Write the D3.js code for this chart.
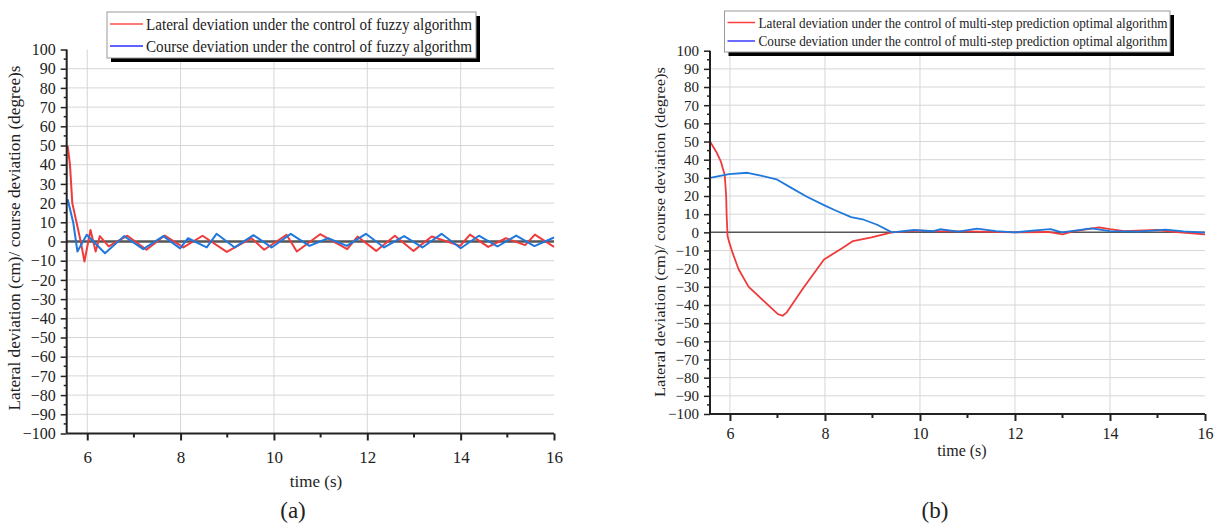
<!DOCTYPE html>
<html>
<head>
<meta charset="utf-8">
<script src="https://cdn.jsdelivr.net/npm/d3@7"></script>
<style>
  body { margin: 0; background: #fff; }
  svg { display: block; }
  text { font-family: "Liberation Serif", "Times New Roman", serif; fill: #222; }
</style>
</head>
<body>
<svg id="fig" width="1220" height="527"></svg>
<script>
// ---- data -------------------------------------------------------------
const xTickValues = [6, 8, 10, 12, 14, 16];
const xMinorValues = [7, 9, 11, 13, 15];
const yTickValues = [-100, -90, -80, -70, -60, -50, -40, -30, -20, -10, 0, 10, 20, 30, 40, 50, 60, 70, 80, 90, 100];
const yGridValues = [-90, -80, -70, -60, -50, -40, -30, -20, -10, 10, 20, 30, 40, 50, 60, 70, 80, 90];

// (a) fuzzy algorithm
const fuzzyLateralTime = [5.58, 5.63, 5.68, 5.77, 5.86, 5.94, 6.07, 6.18, 6.27, 6.46, 6.86, 7.27, 7.66, 8.06, 8.47, 8.99, 9.52, 9.79, 10.27, 10.49, 10.99, 11.57, 11.79, 12.19, 12.59, 12.99, 13.38, 13.99, 14.2, 14.59, 14.97, 15.38, 15.59, 16.0];
const fuzzyLateral     = [50, 40, 20, 10, 0, -10.4, 6, -5.2, 2.8, -2.5, 3, -4.3, 3.1, -3.1, 3, -5.4, 1.7, -4.3, 3.5, -5.2, 3.8, -4, 2.6, -4.9, 3, -4.9, 2.6, -2.3, 3.6, -2.8, 1.7, -1.9, 3.6, -2.8];
const fuzzyCourseTime  = [5.58, 5.7, 5.79, 5.99, 6.38, 6.79, 7.2, 7.63, 7.99, 8.16, 8.56, 8.77, 9.16, 9.56, 9.95, 10.36, 10.76, 11.16, 11.56, 11.97, 12.36, 12.79, 13.18, 13.59, 14.0, 14.39, 14.79, 15.19, 15.58, 16.0];
const fuzzyCourse      = [22, 9.9, -5.2, 3.5, -6.1, 2.8, -4, 2.8, -3.6, 1.7, -3.1, 4, -3.1, 3.3, -3.1, 4, -2.3, 1.7, -2.3, 4, -3.1, 2.8, -3.1, 4, -3.5, 3, -2.6, 3.1, -2.4, 2.1];

// (b) multi-step prediction optimal algorithm
const optLateralTime = [5.58, 5.71, 5.81, 5.89, 5.92, 5.93, 5.95, 5.98, 6.06, 6.18, 6.39, 6.76, 7.01, 7.11, 7.19, 7.54, 7.98, 8.36, 8.59, 8.98, 9.41, 10.0, 10.4, 11.0, 12.0, 12.7, 13.0, 13.2, 13.77, 14.0, 14.3, 15.0, 15.4, 16.0];
const optLateral     = [50, 44.4, 38.9, 31.6, 20, 9.5, -2, -5.1, -11.6, -20.2, -29.9, -39, -45, -45.9, -44.2, -30.8, -14.9, -8.8, -4.8, -2.8, 0, 0.9, 0.6, 0.5, 0, 0.2, -1.1, 0.4, 2.8, 1.8, 0.7, 1.3, 0.2, -1.1];
const optCourseTime  = [5.58, 5.98, 6.37, 6.65, 6.98, 7.31, 7.62, 7.98, 8.2, 8.55, 8.79, 9.1, 9.41, 9.88, 10.26, 10.42, 10.81, 11.2, 11.6, 12.0, 12.37, 12.75, 12.99, 13.61, 14.0, 14.6, 15.17, 15.55, 16.0];
const optCourse      = [30, 32.1, 32.8, 31.2, 29.2, 24.2, 19.6, 15, 12.3, 8.4, 7.2, 4.2, 0, 1.3, 0.6, 1.7, 0.4, 2, 0.7, 0, 0.9, 1.8, 0, 2.2, 0.7, 0.4, 1.5, 0.5, -0.2];

// ---- drawing ----------------------------------------------------------
const svg = d3.select("#fig");
const RED = "#ef3b3b", BLUE = "#1f78dc";
const SERIF = '"Liberation Serif", "Times New Roman", serif';

function drawPanel(p) {
  const g = svg.append("g");
  const x = d3.scaleLinear().domain([p.tMin, 16]).range([p.left, p.right]);
  const y = d3.scaleLinear().domain([-100, 100]).range([p.bottom, p.top]);

  // grid
  g.selectAll(".hg").data(yGridValues).join("line")
    .attr("x1", p.left).attr("x2", p.right)
    .attr("y1", d => y(d)).attr("y2", d => y(d))
    .attr("stroke", "#d6d6d6").attr("stroke-width", 1);
  g.selectAll(".vg").data(xTickValues.filter(d => d < 16)).join("line")
    .attr("x1", d => x(d)).attr("x2", d => x(d))
    .attr("y1", p.top).attr("y2", p.bottom)
    .attr("stroke", "#d6d6d6").attr("stroke-width", 1);

  // zero reference line
  g.append("line")
    .attr("x1", p.left).attr("x2", p.right)
    .attr("y1", y(0)).attr("y2", y(0))
    .attr("stroke", "#555").attr("stroke-width", p.zeroWidth);

  // series
  const line = d3.line().x(d => x(d[0])).y(d => y(d[1]));
  p.series.forEach(s => {
    g.append("path")
      .datum(d3.zip(s.t, s.v))
      .attr("d", line)
      .attr("fill", "none")
      .attr("stroke", s.color)
      .attr("stroke-width", p.lineWidth)
      .attr("stroke-linejoin", "round");
  });

  // x axis
  const xAxis = d3.axisBottom(x).tickValues(xTickValues).tickSize(7).tickPadding(p.xTickPad)
    .tickFormat(d3.format("d"));
  const gx = g.append("g").attr("transform", `translate(0,${p.bottom})`).call(xAxis)
    .style("font-family", SERIF);
  gx.select(".domain").attr("d", `M${p.left},0H${p.right}`).attr("stroke", "#222").attr("stroke-width", 2);
  gx.selectAll(".tick line").attr("stroke", "#222").attr("stroke-width", 2);
  gx.selectAll(".tick text").style("font-size", p.xTickFont + "px").style("font-family", SERIF)
    .attr("fill", "#333");
  g.append("g").selectAll("line").data(xMinorValues).join("line")
    .attr("x1", d => x(d)).attr("x2", d => x(d))
    .attr("y1", p.bottom).attr("y2", p.bottom + 4)
    .attr("stroke", "#222").attr("stroke-width", 2);

  // y axis
  const yAxis = d3.axisLeft(y).tickValues(yTickValues).tickSize(6).tickPadding(5)
    .tickFormat(d => d < 0 ? "\u2212" + Math.abs(d) : d);
  const gy = g.append("g").attr("transform", `translate(${p.left},0)`).call(yAxis)
    .style("font-family", SERIF);
  gy.select(".domain").attr("d", `M0,${p.top}V${p.bottom}`).attr("stroke", "#222").attr("stroke-width", 2);
  gy.selectAll(".tick line").attr("stroke", "#222").attr("stroke-width", 1.5);
  gy.selectAll(".tick text").style("font-size", p.yTickFont + "px").style("font-family", SERIF)
    .attr("fill", "#333");
  g.append("g").selectAll("line").data(d3.range(-95, 100, 10)).join("line")
    .attr("x1", p.left - 3).attr("x2", p.left)
    .attr("y1", d => y(d)).attr("y2", d => y(d))
    .attr("stroke", "#222").attr("stroke-width", 1.5);

  // axis titles
  g.append("text")
    .attr("transform", `translate(${p.yTitleX},${p.yTitleY}) rotate(-90)`)
    .attr("text-anchor", "middle").attr("font-size", p.yTitleFont)
    .attr("textLength", p.yTitleLen).attr("lengthAdjust", "spacingAndGlyphs")
    .attr("fill", "#111")
    .text("Lateral deviation (cm)/ course deviation (degree)s");
  g.append("text")
    .attr("x", p.xTitleX).attr("y", p.xTitleY)
    .attr("text-anchor", "middle").attr("font-size", p.xTitleFont).attr("fill", "#111")
    .text("time (s)");
  g.append("text")
    .attr("x", p.capX).attr("y", 518)
    .attr("text-anchor", "middle").attr("font-size", 23).attr("fill", "#111")
    .text(p.caption);

  // legend
  const L = p.legend;
  g.append("rect").attr("x", L.x + 4).attr("y", L.y + 4).attr("width", L.w).attr("height", L.h).attr("fill", "#000");
  g.append("rect").attr("x", L.x).attr("y", L.y).attr("width", L.w).attr("height", L.h)
    .attr("fill", "#fff").attr("stroke", "#999").attr("stroke-width", 1);
  L.items.forEach((it, i) => {
    const yy = L.rowY[i];
    g.append("line").attr("x1", L.x + 3).attr("x2", L.lineEnd)
      .attr("y1", yy).attr("y2", yy).attr("stroke", it.color).attr("stroke-width", 1.5);
    g.append("text").attr("x", L.textX).attr("y", yy + L.baseOff)
      .attr("font-size", L.font).attr("fill", "#111")
      .attr("textLength", L.textLen).attr("lengthAdjust", "spacingAndGlyphs")
      .text(it.label);
  });
}

drawPanel({
  tMin: 5.56, left: 66.7, right: 554, top: 49.5, bottom: 433.5,
  zeroWidth: 2.5, lineWidth: 2, xTickFont: 17, yTickFont: 16, xTickPad: 10,
  yTitleX: 20, yTitleY: 238, yTitleFont: 17, yTitleLen: 345,
  xTitleX: 316, xTitleY: 487, xTitleFont: 17, capX: 293, caption: "(a)",
  series: [
    { t: fuzzyLateralTime, v: fuzzyLateral, color: RED },
    { t: fuzzyCourseTime, v: fuzzyCourse, color: BLUE }
  ],
  legend: {
    x: 107, y: 12, w: 369, h: 46, lineEnd: 143, textX: 146, textLen: 326,
    font: 16, rowY: [24, 46], baseOff: 5.5,
    items: [
      { label: "Lateral deviation under the control of fuzzy algorithm", color: "#ff4d4d" },
      { label: "Course deviation under the control of fuzzy algorithm", color: "#2b2bff" }
    ]
  }
});

drawPanel({
  tMin: 5.58, left: 710, right: 1205, top: 50.7, bottom: 414,
  zeroWidth: 1.5, lineWidth: 1.8, xTickFont: 16, yTickFont: 15, xTickPad: 7,
  yTitleX: 665, yTitleY: 232, yTitleFont: 15, yTitleLen: 330,
  xTitleX: 962, xTitleY: 456, xTitleFont: 16, capX: 935, caption: "(b)",
  series: [
    { t: optLateralTime, v: optLateral, color: RED },
    { t: optCourseTime, v: optCourse, color: BLUE }
  ],
  legend: {
    x: 724.5, y: 11, w: 445.5, h: 41, lineEnd: 755, textX: 758.5, textLen: 409,
    font: 14, rowY: [22.5, 41], baseOff: 5,
    items: [
      { label: "Lateral deviation under the control of multi-step prediction optimal algorithm", color: "#ff3b3b" },
      { label: "Course deviation under the control of multi-step prediction optimal algorithm", color: "#3b3bff" }
    ]
  }
});
</script>
</body>
</html>
